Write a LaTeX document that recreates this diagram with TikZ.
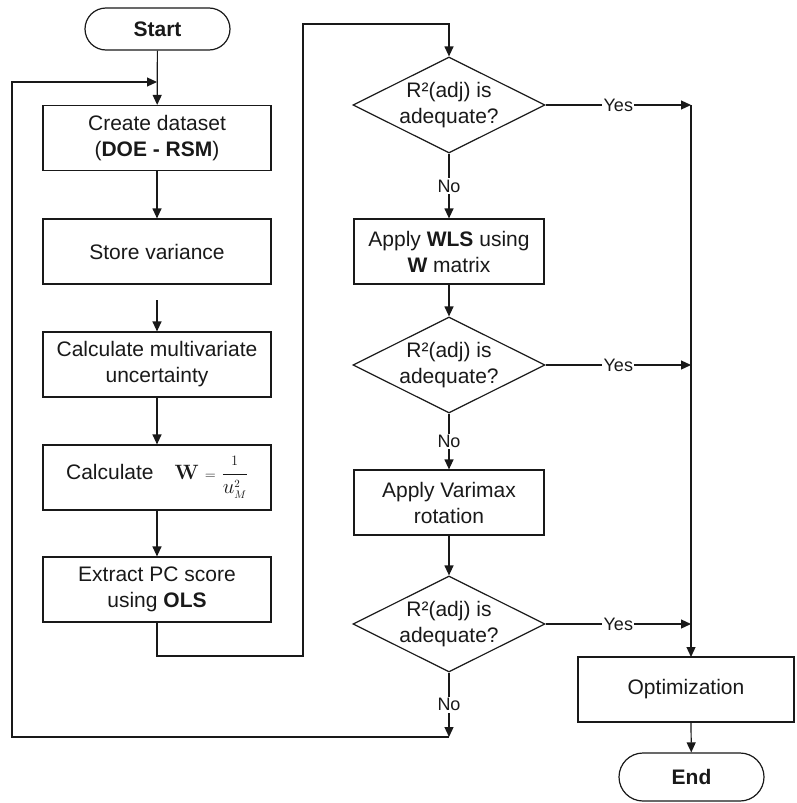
\documentclass[tikz,border=0pt]{standalone}
\usepackage[no-math]{fontspec}
\setmainfont{Liberation Sans}
\usetikzlibrary{arrows.meta,shapes.geometric}
\begin{document}
\begin{tikzpicture}[x=1pt,y=-1pt,
  line width=1.2pt, draw=black!90,
  every node/.style={font=\fontsize{21}{26}\selectfont, text=black!90},
  term/.style={draw, rectangle, rounded corners=21pt, minimum width=145pt, minimum height=42pt, inner sep=0pt},
  procbox/.style={draw, rectangle, minimum width=228pt, minimum height=65pt, align=center, inner sep=0pt},
  rbox/.style={draw, rectangle, minimum width=190pt, minimum height=65pt, align=center, inner sep=0pt},
  decide/.style={draw, diamond, minimum width=192pt, minimum height=96pt, inner sep=-14pt, align=center},
  lab/.style={font=\fontsize{18}{20}\selectfont, fill=white, inner sep=1.5pt},
  arr/.style={-{Triangle[length=10pt,width=9pt]}}
]
\useasboundingbox (0,0) rectangle (796,803);

% left column
\node[term] (start) at (157.5,29) {\bfseries Start};
\node[procbox] (create) at (157,138) {Create dataset\\(\textbf{DOE - RSM})};
\node[procbox] (store) at (157,251.5) {Store variance};
\node[procbox] (multi) at (157,364.5) {Calculate multivariate\\uncertainty};
\node[procbox] (calcw) at (157,477.5) {Calculate\quad $\displaystyle\mathbf{W}\mathrel{\scriptstyle=}\frac{\scriptstyle 1}{u^{\scriptscriptstyle 2}_{\scriptscriptstyle M}}$};
\node[procbox] (extract) at (157,589.5) {Extract PC score\\using \textbf{OLS}};

% right column
\node[decide] (d1) at (449,105) {R²(adj) is\\adequate?};
\node[rbox] (wls) at (449,251.5) {Apply \textbf{WLS} using\\\textbf{W} matrix};
\node[decide] (d2) at (449,365) {R²(adj) is\\adequate?};
\node[rbox] (vari) at (449,502.5) {Apply Varimax\\rotation};
\node[decide] (d3) at (449,624) {R²(adj) is\\adequate?};

% far right
\node[procbox, minimum width=216pt] (opt) at (686,689.5) {Optimization};
\node[term, minimum height=48pt, rounded corners=24pt] (endn) at (691.5,777) {\bfseries End};

% helper coordinates
\coordinate (j1) at (691,105);
\coordinate (j2) at (691,365);
\coordinate (j3) at (691,624);
\coordinate (jopt) at (691,657);
\coordinate (e1) at (157,656);
\coordinate (e2) at (303,656);
\coordinate (e3) at (303,24);
\coordinate (e4) at (449,24);
\coordinate (lp) at (449,737);
\coordinate (lpl) at (12,737);
\coordinate (lpt) at (12,82);
\coordinate (lpe) at (157,82);
\coordinate (sgap) at (157,300);

% left column flow
\draw[arr] (start) -- (create);
\draw[arr] (create) -- (store);
\draw[arr] (sgap) -- (multi);
\draw[arr] (multi) -- (calcw);
\draw[arr] (calcw) -- (extract);
\draw[arr] (extract.south) -- (e1) -- (e2) -- (e3) -- (e4) -- (d1.north);

% right column flow
\draw[arr] (d1.south) -- node[lab]{No} (wls.north);
\draw[arr] (wls) -- (d2);
\draw[arr] (d2.south) -- node[lab]{No} (vari.north);
\draw[arr] (vari) -- (d3);
\draw[arr] (d3.south) -- node[lab]{No} (lp);
\draw[arr] (lp) -- (lpl) -- (lpt) -- (lpe);

% yes branches
\draw[arr] (d1.east) -- node[lab]{Yes} (j1);
\draw[arr] (d2.east) -- node[lab]{Yes} (j2);
\draw[arr] (d3.east) -- node[lab]{Yes} (j3);
\draw[arr] (j1) -- (jopt);
\draw[arr] (opt.south -| jopt) -- (endn);
\end{tikzpicture}
\end{document}
